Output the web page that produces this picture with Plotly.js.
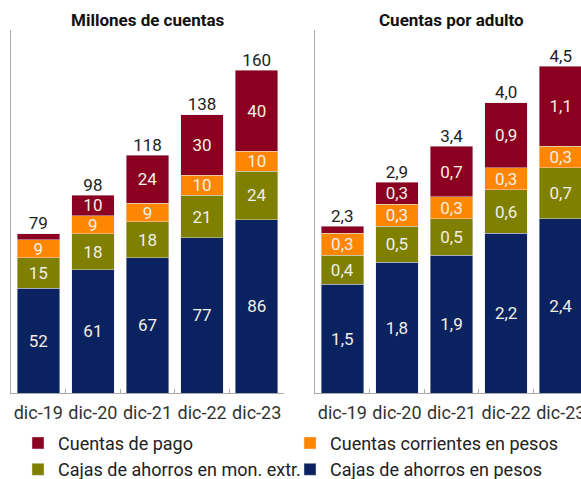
<!DOCTYPE html>
<html>
<head>
<meta charset="utf-8">
<script src="https://cdn.plot.ly/plotly-3.0.1.min.js"></script>
<style>html,body{margin:0;padding:0;background:#fff;}#chart{width:581px;height:479px;}</style>
</head>
<body>
<div id="chart"></div>
<script>
const categories = ['dic-19', 'dic-20', 'dic-21', 'dic-22', 'dic-23'];
const seriesNames = ['Cajas de ahorros en pesos', 'Cajas de ahorros en mon. extr.', 'Cuentas corrientes en pesos', 'Cuentas de pago'];

const millPesos = [52, 61, 67, 77, 86];
const millExtr = [15, 18, 18, 21, 24];
const millCorr = [9, 9, 9, 10, 10];
const millPago = [3, 10, 24, 30, 40];
const millTotal = [79, 98, 118, 138, 160];

const adultPesos = [1.5, 1.8, 1.9, 2.2, 2.4];
const adultExtr = [0.4, 0.5, 0.5, 0.6, 0.7];
const adultCorr = [0.3, 0.3, 0.3, 0.3, 0.3];
const adultPago = [0.1, 0.3, 0.7, 0.9, 1.1];
const adultTotal = [2.3, 2.9, 3.4, 4.0, 4.5];

const colors = ['#0b2260', '#7f7f00', '#ff8600', '#8b0020'];
const ranks = [4, 3, 2, 1];

const FONT = 'Roboto, "Open Sans", sans-serif';
const L0 = 11 / 581, L1 = 284 / 581, R0 = 315 / 581;
const yMaxL = 180, yMaxR = 5;

function fmt(v, dec) { return v.toFixed(dec).replace('.', ','); }
function labels(vals, max, dec) { return vals.map(v => (v / max < 0.04 ? '' : fmt(v, dec))); }

const traces = [];
function addPanel(series, total, xa, ya, max, dec, legend) {
  series.forEach((vals, i) => {
    traces.push({
      type: 'bar', x: categories, y: vals, name: seriesNames[i],
      xaxis: xa, yaxis: ya,
      marker: { color: colors[i], line: { color: 'rgba(225,225,225,0.8)', width: 0.6 } },
      text: labels(vals, max, dec), textposition: 'inside', insidetextanchor: 'middle',
      constraintext: 'none', textangle: 0,
      textfont: { family: FONT, size: 17, color: '#f1f0e6' },
      showlegend: legend, legendrank: ranks[i], hoverinfo: 'skip'
    });
  });
  traces.push({
    type: 'scatter', mode: 'text', x: categories, y: total,
    text: total.map(v => fmt(v, dec)), textposition: 'top center',
    textfont: { family: FONT, size: 17, color: '#222' },
    xaxis: xa, yaxis: ya, showlegend: false, hoverinfo: 'skip', cliponaxis: false
  });
}
addPanel([millPesos, millExtr, millCorr, millPago], millTotal, 'x', 'y', yMaxL, 0, true);
addPanel([adultPesos, adultExtr, adultCorr, adultPago], adultTotal, 'x2', 'y2', yMaxR, 1, false);

const xCommon = {
  type: 'category', showline: true, linecolor: '#aaa', linewidth: 1,
  ticks: 'inside', tickson: 'boundaries', ticklen: 4, tickcolor: '#aaa', tickangle: 0,
  ticklabelstandoff: 3,
  tickfont: { family: FONT, size: 18, color: '#333' }, showgrid: false, zeroline: false, fixedrange: true
};
const yCommon = { showline: true, linecolor: '#aaa', linewidth: 1, showticklabels: false, ticks: '', showgrid: false, zeroline: false };

const layout = {
  width: 581, height: 479,
  margin: { l: 0, r: 0, t: 30, b: 86, autoexpand: false },
  paper_bgcolor: '#fff', plot_bgcolor: '#fff',
  barmode: 'stack', bargap: 0.22,
  separators: ',.',
  font: { family: FONT, size: 17, color: '#222' },
  xaxis: Object.assign({}, xCommon, { domain: [L0, L1], anchor: 'y', range: [-0.5, 4.5] }),
  yaxis: Object.assign({}, yCommon, { domain: [0, 1], anchor: 'x', range: [0, yMaxL] }),
  xaxis2: Object.assign({}, xCommon, { domain: [R0, 1], anchor: 'y2', range: [-0.5, 4.37] }),
  yaxis2: Object.assign({}, yCommon, { domain: [0, 1], anchor: 'x2', range: [0, yMaxR] }),
  showlegend: true,
  legend: {
    orientation: 'h', x: 18 / 581, y: -0.0875, xanchor: 'left', yanchor: 'top',
    entrywidth: 227, entrywidthmode: 'pixels', itemwidth: 30, traceorder: 'normal',
    font: { family: FONT, size: 18, color: '#222' }, bgcolor: 'rgba(0,0,0,0)',
    tracegroupgap: 0, itemclick: false, itemdoubleclick: false
  },
  annotations: [
    { text: '<b>Millones de cuentas</b>', xref: 'paper', yref: 'paper', x: (L0 + L1) / 2, y: 1 + 10 / 363,
      xanchor: 'center', yanchor: 'middle', showarrow: false, font: { family: FONT, size: 17, color: '#111' } },
    { text: '<b>Cuentas por adulto</b>', xref: 'paper', yref: 'paper', x: (R0 + 588 / 581) / 2, y: 1 + 10 / 363,
      xanchor: 'center', yanchor: 'middle', showarrow: false, font: { family: FONT, size: 17, color: '#111' } }
  ]
};

Plotly.newPlot('chart', traces, layout, { staticPlot: true, displayModeBar: false });
</script>
</body>
</html>
